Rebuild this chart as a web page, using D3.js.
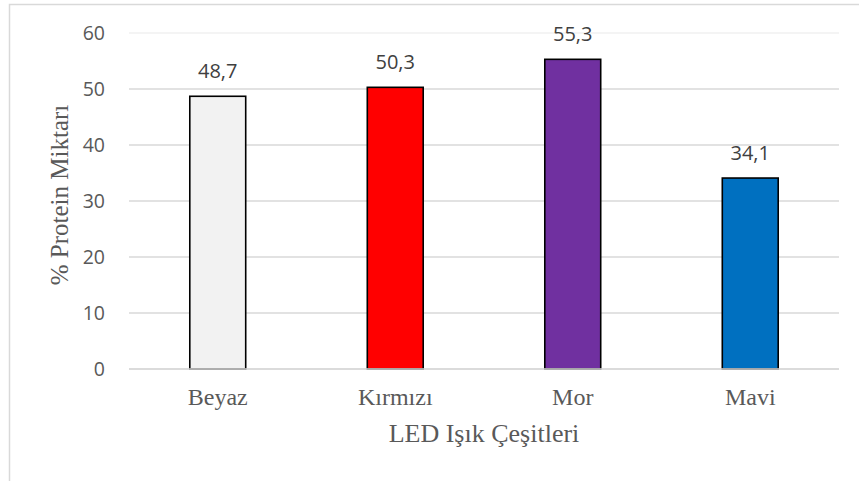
<!DOCTYPE html>
<html>
<head>
<meta charset="utf-8">
<script src="https://cdn.jsdelivr.net/npm/d3@7"></script>
<style>
  html, body { margin: 0; padding: 0; background: #fff; }
  svg { display: block; }
</style>
</head>
<body>
<svg id="chart" width="859" height="481"></svg>
<script>
// LED light types and the protein percentage measured under each
const categories = ["Beyaz", "Kırmızı", "Mor", "Mavi"];
const values = [48.7, 50.3, 55.3, 34.1];
const barColors = ["#f2f2f2", "#ff0000", "#7030a0", "#0070c0"];
const yTicks = [0, 10, 20, 30, 40, 50, 60];
const yTitle = "% Protein Miktarı";
const xTitle = "LED Işık Çeşitleri";

const svg = d3.select("#chart");
const plot = { left: 129, right: 839, top: 33, bottom: 369 };

// outer chart frame
svg.append("rect")
  .attr("x", 9.5).attr("y", 4.5)
  .attr("width", 870).attr("height", 500)
  .attr("fill", "#fff")
  .attr("stroke", "#d9d9d9").attr("stroke-width", 1.5);

const x = d3.scaleBand()
  .domain(categories)
  .range([plot.left, plot.right])
  .paddingInner(0.685)
  .paddingOuter(0.3425);

const y = d3.scaleLinear()
  .domain([0, 60])
  .range([plot.bottom, plot.top]);

// horizontal gridlines
svg.append("g")
  .selectAll("line")
  .data(yTicks)
  .join("line")
  .attr("x1", plot.left).attr("x2", plot.right)
  .attr("y1", d => y(d)).attr("y2", d => y(d))
  .attr("stroke", d => d === 60 ? "#f0f0f0" : "#d9d9d9")
  .attr("stroke-width", 1.5);

// y axis tick labels
const yAxis = d3.axisLeft(y).tickValues(yTicks).tickSize(0).tickPadding(0)
  .tickFormat(d3.format("d"));
const gy = svg.append("g")
  .attr("transform", "translate(105,0)")
  .call(yAxis);
gy.select(".domain").remove();
gy.selectAll("text")
  .attr("font-family", "'Open Sans', sans-serif")
  .attr("font-size", 19.5)
  .attr("fill", "#595959")
  .attr("dy", "0.35em");

// bars
svg.append("g")
  .selectAll("rect")
  .data(values)
  .join("rect")
  .attr("x", (d, i) => x(categories[i]))
  .attr("y", d => y(d))
  .attr("width", x.bandwidth())
  .attr("height", d => y(0) - y(d))
  .attr("fill", (d, i) => barColors[i])
  .attr("stroke", "#000")
  .attr("stroke-width", 1.6);

// baseline over the bar feet
svg.append("line")
  .attr("x1", plot.left).attr("x2", plot.right)
  .attr("y1", y(0)).attr("y2", y(0))
  .attr("stroke", "#d9d9d9").attr("stroke-width", 1.5);

// value labels
svg.append("g")
  .selectAll("text")
  .data(values)
  .join("text")
  .attr("x", (d, i) => x(categories[i]) + x.bandwidth() / 2)
  .attr("y", d => y(d) - 18)
  .attr("text-anchor", "middle")
  .attr("font-family", "'Open Sans', sans-serif")
  .attr("font-size", 20)
  .attr("fill", "#404040")
  .text(d => d3.format(".1f")(d).replace(".", ","));

// category labels
const xAxis = d3.axisBottom(x).tickSize(0).tickPadding(0);
const gx = svg.append("g")
  .call(xAxis);
gx.select(".domain").remove();
gx.selectAll("text")
  .attr("y", 405)
  .attr("dy", 0)
  .attr("font-family", "'Liberation Serif', 'Times New Roman', serif")
  .attr("font-size", 24)
  .attr("fill", "#595959");

// axis titles
svg.append("text")
  .attr("x", (plot.left + plot.right) / 2)
  .attr("y", 442)
  .attr("text-anchor", "middle")
  .attr("font-family", "'Liberation Serif', 'Times New Roman', serif")
  .attr("font-size", 26)
  .attr("fill", "#595959")
  .text(xTitle);

svg.append("text")
  .attr("transform", "translate(68,195) rotate(-90)")
  .attr("text-anchor", "middle")
  .attr("font-family", "'Liberation Serif', 'Times New Roman', serif")
  .attr("font-size", 25)
  .attr("fill", "#595959")
  .text(yTitle);
</script>
</body>
</html>
